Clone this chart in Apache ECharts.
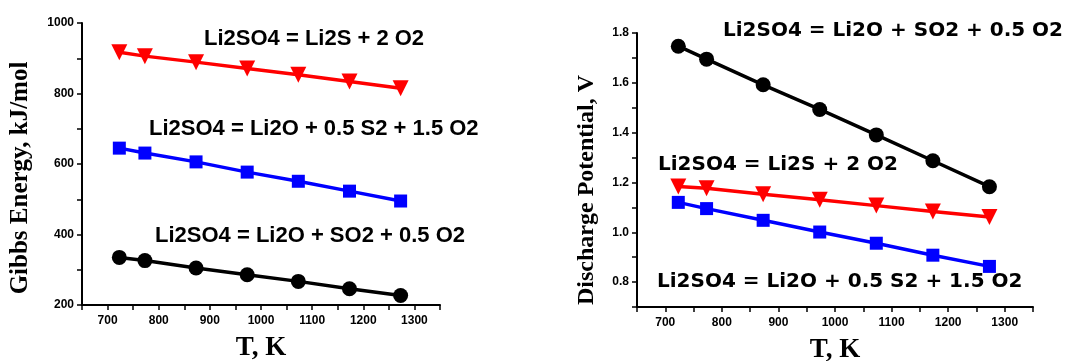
<!DOCTYPE html>
<html>
<head>
<meta charset="utf-8">
<script src="https://cdn.jsdelivr.net/npm/echarts@6/dist/echarts.min.js"></script>
<style>
  html, body { margin: 0; padding: 0; background: #fff; }
  #chart { width: 1083px; height: 361px; }
</style>
</head>
<body>
<div id="chart"></div>
<script>
// temperatures, K
const temps = [723, 773, 873, 973, 1073, 1173, 1273]

// Gibbs energy, kJ/mol
const gibbsLi2S = [917, 906, 889, 871, 853, 834, 815]
const gibbsS2 = [645, 631, 606, 577, 551, 523, 495]
const gibbsSO2 = [335, 326, 305, 286, 267, 246, 227]

// discharge potential, V
const potSO2 = [1.747, 1.695, 1.592, 1.493, 1.391, 1.287, 1.183]
const potLi2S = [1.184, 1.177, 1.153, 1.131, 1.107, 1.083, 1.061]
const potS2 = [1.120, 1.095, 1.048, 1.001, 0.956, 0.908, 0.863]

const labelLi2S = 'Li2SO4 = Li2S + 2 O2'
const labelS2 = 'Li2SO4 = Li2O + 0.5 S2 + 1.5 O2'
const labelSO2 = 'Li2SO4 = Li2O + SO2 + 0.5 O2'

const pairs = (ys) => temps.map((t, i) => [t, ys[i]])

const axisCommon = {
  axisLine: { show: true, lineStyle: { color: '#000', width: 2 } },
  axisTick: { show: true, inside: false, length: 5, lineStyle: { color: '#000', width: 1.5 } },
  splitLine: { show: false },
  axisLabel: { color: '#000', fontFamily: 'Liberation Sans', fontWeight: 'bold', fontSize: 12 }
}
const nameStyle = { fontFamily: 'Liberation Serif', fontWeight: 'bold', color: '#000' }

function xAxis(gridIndex) {
  return Object.assign({}, axisCommon, {
    type: 'value',
    gridIndex: gridIndex,
    min: 650,
    max: 1350,
    interval: 50,
    name: 'T, K',
    nameLocation: 'middle',
    nameGap: 30,
    nameTextStyle: Object.assign({ fontSize: 27 }, nameStyle),
    axisLabel: Object.assign({}, axisCommon.axisLabel, {
      margin: 10,
      formatter(v) { return v % 100 === 0 ? String(v) : '' }
    })
  })
}

function series(name, data, symbol, color, xi, yi) {
  return {
    name: name,
    type: 'line',
    xAxisIndex: xi,
    yAxisIndex: yi,
    data: data,
    symbol: symbol,
    symbolSize: symbol === 'triangle' ? 16 : (symbol === 'rect' ? 13 : 15),
    symbolRotate: symbol === 'triangle' ? 180 : 0,
    lineStyle: { color: color, width: 3.5 },
    itemStyle: { color: color },
    animation: false
  }
}

function note(text, x, y, size, family) {
  return {
    type: 'text',
    left: x,
    top: y,
    style: {
      text: text,
      fill: '#000',
      font: 'bold ' + size + 'px "' + family + '"'
    }
  }
}

const chart = echarts.init(document.getElementById('chart'))
chart.setOption({
  backgroundColor: '#fff',
  animation: false,
  grid: [
    { left: 82, top: 23, width: 358, height: 282, outerBoundsMode: 'none', containLabel: false },
    { left: 637, top: 33, width: 396, height: 274, outerBoundsMode: 'none', containLabel: false }
  ],
  xAxis: [xAxis(0), xAxis(1)],
  yAxis: [
    Object.assign({}, axisCommon, {
      type: 'value',
      gridIndex: 0,
      min: 200,
      max: 1000,
      interval: 100,
      name: 'Gibbs Energy, kJ/mol',
      nameLocation: 'middle',
      nameGap: 49,
      nameTextStyle: Object.assign({ fontSize: 25, padding: [0, 28, 0, 0] }, nameStyle),
      axisLabel: Object.assign({}, axisCommon.axisLabel, {
        formatter(v) { return v % 200 === 0 ? String(v) : '' }
      })
    }),
    Object.assign({}, axisCommon, {
      type: 'value',
      gridIndex: 1,
      min: 0.7,
      max: 1.8,
      interval: 0.1,
      name: 'Discharge Potential, V',
      nameLocation: 'middle',
      nameGap: 38,
      nameTextStyle: Object.assign({ fontSize: 24, padding: [0, 40, 0, 0] }, nameStyle),
      axisLabel: Object.assign({}, axisCommon.axisLabel, {
        formatter(v) { return Math.round(v * 10) % 2 === 0 ? v.toFixed(1) : '' }
      })
    })
  ],
  series: [
    series(labelLi2S, pairs(gibbsLi2S), 'triangle', '#ff0000', 0, 0),
    series(labelS2, pairs(gibbsS2), 'rect', '#0000ff', 0, 0),
    series(labelSO2, pairs(gibbsSO2), 'circle', '#000000', 0, 0),
    series(labelSO2, pairs(potSO2), 'circle', '#000000', 1, 1),
    series(labelLi2S, pairs(potLi2S), 'triangle', '#ff0000', 1, 1),
    series(labelS2, pairs(potS2), 'rect', '#0000ff', 1, 1)
  ],
  graphic: [
    note(labelLi2S, 204, 28, 22, 'Liberation Sans'),
    note(labelS2, 149, 118, 22, 'Liberation Sans'),
    note(labelSO2, 155, 225, 22, 'Liberation Sans'),
    note(labelSO2, 723, 21, 20, 'DejaVu Sans'),
    note(labelLi2S, 658, 155, 20, 'DejaVu Sans'),
    note(labelS2, 657, 272, 20, 'DejaVu Sans')
  ]
})
</script>
</body>
</html>
